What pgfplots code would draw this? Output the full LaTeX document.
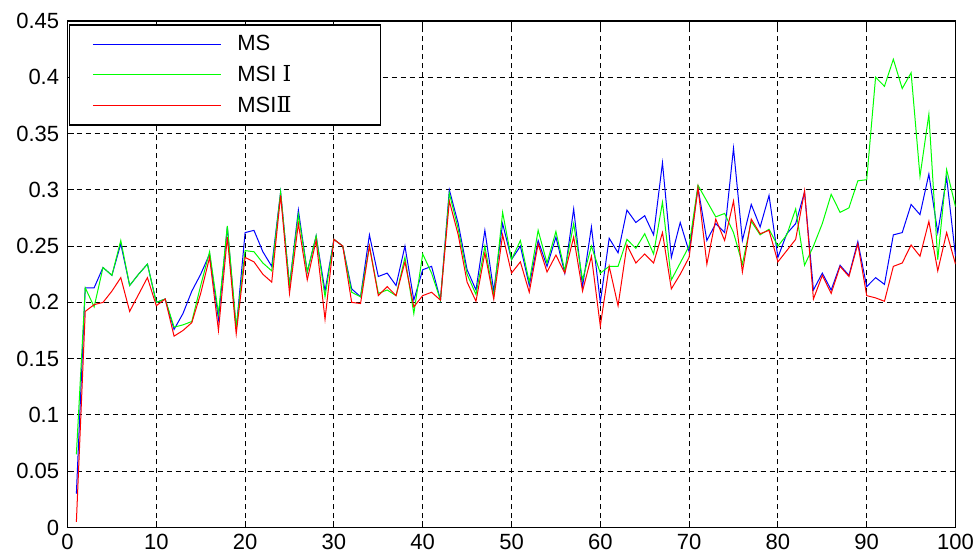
\documentclass[border=0pt]{standalone}
\usepackage{fontspec}
\setmainfont{Liberation Sans}
\newfontfamily\romfont{DejaVu Serif}
\usepackage{pgfplots}
\usepackage{pgfplotstable}
\pgfplotsset{compat=1.18}
\pgfplotstableread{
x b g r
1 0.030 0.065 0.005
2 0.213 0.213 0.192
3 0.213 0.196 0.198
4 0.231 0.231 0.200
5 0.224 0.224 0.210
6 0.252 0.255 0.222
7 0.215 0.215 0.192
8 0.225 0.225 0.207
9 0.234 0.234 0.222
10 0.200 0.200 0.197
11 0.203 0.203 0.203
12 0.176 0.178 0.170
13 0.190 0.180 0.175
14 0.210 0.183 0.182
15 0.225 0.215 0.208
16 0.243 0.245 0.240
17 0.185 0.190 0.175
18 0.267 0.268 0.258
19 0.176 0.178 0.172
20 0.262 0.246 0.240
21 0.264 0.245 0.236
22 0.245 0.235 0.225
23 0.232 0.228 0.218
24 0.298 0.298 0.295
25 0.215 0.215 0.208
26 0.282 0.278 0.270
27 0.227 0.227 0.220
28 0.259 0.259 0.255
29 0.210 0.205 0.185
30 0.256 0.256 0.256
31 0.250 0.250 0.250
32 0.212 0.209 0.200
33 0.205 0.205 0.199
34 0.260 0.250 0.250
35 0.223 0.208 0.206
36 0.226 0.211 0.214
37 0.215 0.206 0.206
38 0.250 0.240 0.236
39 0.202 0.190 0.196
40 0.229 0.243 0.206
41 0.232 0.226 0.209
42 0.202 0.202 0.202
43 0.300 0.297 0.290
44 0.270 0.265 0.260
45 0.229 0.225 0.218
46 0.211 0.207 0.201
47 0.264 0.250 0.244
48 0.210 0.205 0.203
49 0.270 0.280 0.260
50 0.238 0.238 0.226
51 0.250 0.255 0.236
52 0.215 0.218 0.209
53 0.255 0.264 0.252
54 0.232 0.235 0.227
55 0.258 0.263 0.242
56 0.226 0.228 0.226
57 0.283 0.270 0.258
58 0.214 0.220 0.210
59 0.267 0.250 0.241
60 0.200 0.226 0.179
61 0.257 0.232 0.232
62 0.244 0.232 0.197
63 0.282 0.256 0.251
64 0.271 0.248 0.235
65 0.277 0.261 0.243
66 0.260 0.243 0.235
67 0.324 0.289 0.262
68 0.240 0.220 0.212
69 0.271 0.235 0.225
70 0.245 0.250 0.240
71 0.302 0.304 0.302
72 0.255 0.290 0.234
73 0.270 0.276 0.274
74 0.262 0.279 0.255
75 0.337 0.262 0.290
76 0.255 0.234 0.227
77 0.287 0.272 0.274
78 0.267 0.260 0.261
79 0.295 0.265 0.264
80 0.240 0.250 0.236
81 0.261 0.260 0.246
82 0.270 0.283 0.256
83 0.298 0.233 0.299
84 0.211 0.250 0.203
85 0.226 0.270 0.224
86 0.211 0.296 0.208
87 0.233 0.280 0.232
88 0.224 0.284 0.223
89 0.254 0.308 0.252
90 0.214 0.309 0.206
91 0.222 0.400 0.204
92 0.216 0.392 0.201
93 0.260 0.416 0.232
94 0.262 0.390 0.235
95 0.287 0.404 0.251
96 0.278 0.312 0.241
97 0.314 0.367 0.272
98 0.262 0.238 0.228
99 0.311 0.318 0.262
100 0.241 0.285 0.234
}\datatable
\definecolor{mblue}{RGB}{0,0,255}
\definecolor{mgreen}{RGB}{0,255,0}
\definecolor{mred}{RGB}{255,0,0}
\begin{document}
\begin{tikzpicture}
\useasboundingbox (-33.75pt,-11.75pt) rectangle (453.25pt,263.75pt);
\begin{axis}[
  at={(0pt,0pt)}, anchor=south west,
  scale only axis, width=444pt, height=253.25pt,
  xmin=0, xmax=100, ymin=0, ymax=0.45,
  xtick={0,10,...,100},
  ytick={0,0.05,0.1,0.15,0.2,0.25,0.3,0.35,0.4,0.45},
  yticklabels={0,0.05,0.1,0.15,0.2,0.25,0.3,0.35,0.4,0.45},
  xticklabels={0,10,20,30,40,50,60,70,80,90,100},
  tick align=inside, tick pos=both, major tick length=3pt,
  tick style={black, line width=0.5pt},
  axis line style={black, line width=0.9pt},
  grid=major,
  major grid style={black, line width=0.5pt, dash pattern=on 2.5pt off 2pt},
  tick label style={font=\fontsize{11}{13}\selectfont},
  xticklabel style={inner sep=1pt, yshift=-2pt},
  yticklabel style={inner sep=2pt, xshift=-2pt},
  legend cell align=left,
  legend image code/.code={\draw[#1] (0pt,0pt) -- (64pt,0pt);},
  legend style={at={(0,1)}, anchor=north west, xshift=0.5pt, yshift=-1.5pt,
    draw=black, line width=0.9pt, fill=white,
    font=\fontsize{11}{13}\selectfont,
    inner xsep=11.5pt, inner ysep=3pt, row sep=2pt, column sep=6pt,
    nodes={inner sep=2pt}},
]
\addplot[mblue, line width=0.5pt] table[x=x, y=b] {\datatable};
\addlegendentry{\makebox[58pt][l]{MS}}
\addplot[mgreen, line width=0.5pt] table[x=x, y=g] {\datatable};
\addlegendentry{\makebox[58pt][l]{MSI {\romfont Ⅰ}}}
\addplot[mred, line width=0.5pt] table[x=x, y=r] {\datatable};
\addlegendentry{\makebox[58pt][l]{MSI{\romfont Ⅱ}}}
\end{axis}
\end{tikzpicture}
\end{document}
